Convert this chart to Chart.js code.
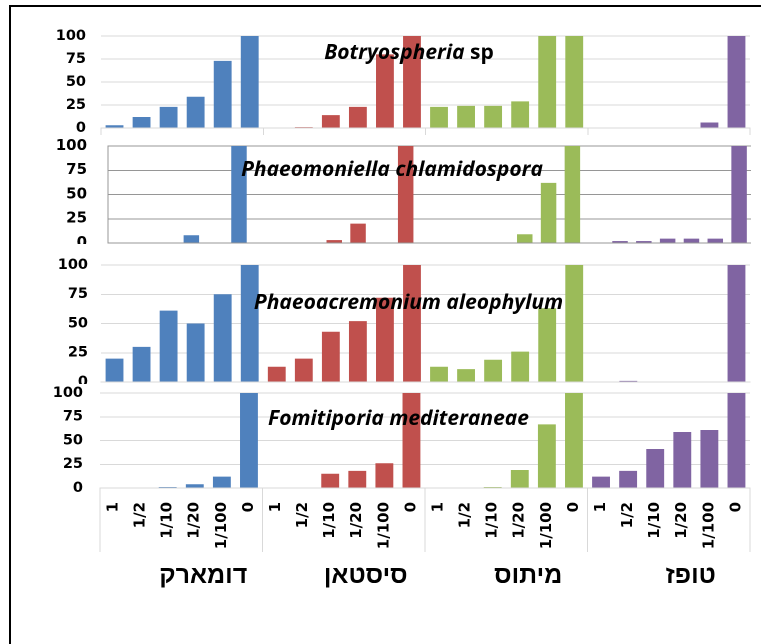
<!DOCTYPE html>
<html><head><meta charset="utf-8">
<script src="https://cdn.jsdelivr.net/npm/chart.js@4"></script>
<style>
html,body{margin:0;padding:0;background:#fff;width:761px;height:644px;overflow:hidden;position:relative;}
canvas{position:absolute;left:0;}
#frame{position:absolute;left:9px;top:5px;width:800px;height:700px;border-top:2px solid #000;border-left:2px solid #000;z-index:10;pointer-events:none;}
</style></head><body>
<canvas id="c1" width="761" height="132" style="top:8px"></canvas>
<canvas id="c2" width="761" height="121" style="top:134px"></canvas>
<canvas id="c3" width="761" height="140" style="top:244px;background:#fff"></canvas>
<canvas id="c4" width="761" height="250" style="top:384px"></canvas>
<div id="frame"></div>
<script>
// ---- data ----
const doses = ['1', '1/2', '1/10', '1/20', '1/100', '0'];
const cultivars = ['דומארק', 'סיסטאן', 'מיתוס', 'טופז'];
const yTicks = [0, 25, 50, 75, 100];

// values per cultivar (דומארק, סיסטאן, מיתוס, טופז), doses in order above
const botryosphaeria = [
  [3, 12, 23, 34, 73, 100],
  [0, 1, 14, 23, 80, 100],
  [23, 24, 24, 29, 100, 100],
  [0, 0, 0, 0, 6, 100]
];
const phaeomoniella = [
  [0.5, 0.5, 0.5, 8, 0, 100],
  [0, 0.5, 3, 20, 0, 100],
  [0.5, 0.5, 0.5, 9, 62, 100],
  [2, 2, 4.5, 4.5, 4.5, 100]
];
const phaeoacremonium = [
  [20, 30, 61, 50, 75, 100],
  [13, 20, 43, 52, 72, 100],
  [13, 11, 19, 26, 63, 100],
  [0, 1, 0, 0, 0, 100]
];
const fomitiporia = [
  [0, 0, 1, 4, 12, 100],
  [0, 0, 15, 18, 26, 100],
  [0, 0, 1, 19, 67, 100],
  [12, 18, 41, 59, 61, 100]
];

// ---- styles ----
const colors = ['#4F81BD', '#C0504D', '#9BBB59', '#8064A2'];
const FONT = '"DejaVu Sans", sans-serif';
const HEB_FONT = '"Liberation Sans", Arial, sans-serif';
const TITLE_FONT = '"Open Sans", Lato, sans-serif';

function buildLabels(gap) {
  const labels = [];
  cultivars.forEach((c, g) => {
    doses.forEach(d => labels.push(d));
    if (gap && g < cultivars.length - 1) labels.push('');
  });
  return labels;
}
function buildDatasets(values, gap, barPct) {
  const per = doses.length + (gap ? 1 : 0);
  const n = cultivars.length * doses.length + (gap ? cultivars.length - 1 : 0);
  return cultivars.map((c, g) => {
    const data = new Array(n).fill(null);
    values[g].forEach((v, i) => { data[g * per + i] = v; });
    return {
      label: c, data, backgroundColor: colors[g], borderWidth: 0,
      grouped: false, barPercentage: barPct, categoryPercentage: 1
    };
  });
}
function titlePlugin(parts, cx, baseline, size) {
  return {
    id: 'panelTitle',
    afterDraw(chart) {
      const ctx = chart.ctx;
      ctx.save();
      ctx.fillStyle = '#000';
      ctx.textBaseline = 'alphabetic';
      ctx.textAlign = 'left';
      const fonts = parts.map(p => (p.italic ? 'italic ' : '') + 'bold ' + size + 'px ' + TITLE_FONT);
      let total = 0;
      const widths = parts.map((p, i) => { ctx.font = fonts[i]; const w = ctx.measureText(p.text).width; total += w; return w; });
      let x = cx - total / 2;
      parts.forEach((p, i) => { ctx.font = fonts[i]; ctx.fillText(p.text, x, baseline); x += widths[i]; });
      ctx.restore();
    }
  };
}
const groupLabelPlugin = {
  id: 'groupLabels',
  afterDraw(chart) {
    const xs = chart.scales.x, ctx = chart.ctx;
    ctx.save();
    ctx.fillStyle = '#000';
    ctx.font = 'bold 25px ' + HEB_FONT;
    ctx.textAlign = 'center';
    ctx.textBaseline = 'alphabetic';
    cultivars.forEach((c, g) => {
      const a = xs.getPixelForValue(g * doses.length);
      const b = xs.getPixelForValue(g * doses.length + doses.length - 1);
      ctx.fillText(c, (a + b) / 2 + 22, chart.chartArea.bottom + 95);
    });
    ctx.restore();
  }
};
const boundaryColor = (col, every) => (ctx) => (ctx.index === undefined || ctx.index % every === 0) ? col : 'rgba(0,0,0,0)';

function makeChart(id, values, cfg) {
  const labels = buildLabels(cfg.gap);
  new Chart(document.getElementById(id), {
    type: 'bar',
    data: { labels, datasets: buildDatasets(values, cfg.gap, cfg.barPct) },
    options: {
      responsive: false, animation: false, devicePixelRatio: 2,
      layout: { padding: { top: cfg.padTop, bottom: cfg.padBottom, right: cfg.padRight, left: 0 } },
      plugins: { legend: { display: false }, tooltip: { enabled: false }, title: { display: false } },
      scales: {
        x: cfg.x,
        y: {
          min: 0, max: 100,
          afterBuildTicks: s => { s.ticks = yTicks.map(v => ({ value: v })); },
          afterFit: s => { s.width = cfg.yWidth; s.paddingTop = 0; s.paddingBottom = 0; },
          ticks: { color: '#000', autoSkip: false, font: { family: FONT, weight: 'bold', size: cfg.yFont }, padding: cfg.yPad },
          grid: { color: cfg.gridColor, drawTicks: false, lineWidth: 1 },
          border: cfg.yBorder
        }
      }
    },
    plugins: cfg.plugins
  });
}

// Panel 1
makeChart('c1', botryosphaeria, {
  gap: false, barPct: 0.66, padTop: 28, padBottom: 0, padRight: 11, yWidth: 101, yFont: 14.5, yPad: 15,
  gridColor: '#d9d9d9', yBorder: { display: false },
  x: {
    display: true, offset: true,
    afterFit: s => { s.height = 12; },
    ticks: { display: false },
    grid: { drawOnChartArea: false, drawTicks: true, tickLength: 7, color: boundaryColor('#d9d9d9', 6) },
    border: { display: true, color: '#d9d9d9' }
  },
  plugins: [titlePlugin([{ text: 'Botryospheria ', italic: true }, { text: 'sp', italic: false }], 409, 59 - 8, 21)]
});

// Panel 2
makeChart('c2', phaeomoniella, {
  gap: true, barPct: 0.65, padTop: 12, padBottom: 12, padRight: 10, yWidth: 108, yFont: 15, yPad: 21,
  gridColor: '#969696', yBorder: { display: true, color: '#969696', width: 1 },
  x: { display: false, offset: true },
  plugins: [titlePlugin([{ text: 'Phaeomoniella chlamidospora', italic: true }], 392, 176 - 134, 21)]
});

// Panel 3
makeChart('c3', phaeoacremonium, {
  gap: false, barPct: 0.66, padTop: 21, padBottom: 0, padRight: 11, yWidth: 101, yFont: 14.5, yPad: 13,
  gridColor: '#d9d9d9', yBorder: { display: false },
  x: {
    display: true, offset: true,
    afterFit: s => { s.height = 2; },
    ticks: { display: false },
    grid: { drawOnChartArea: false, drawTicks: false },
    border: { display: true, color: '#d9d9d9' }
  },
  plugins: [titlePlugin([{ text: 'Phaeoacremonium aleophylum', italic: true }], 408.5, 309 - 244, 21)]
});

// Panel 4
makeChart('c4', fomitiporia, {
  gap: false, barPct: 0.66, padTop: 9, padBottom: 76, padRight: 11, yWidth: 100, yFont: 14.5, yPad: 17,
  gridColor: '#d9d9d9', yBorder: { display: false },
  x: {
    display: true, offset: true,
    afterFit: s => { s.height = 70; },
    ticks: { color: '#000', autoSkip: false, minRotation: 90, maxRotation: 90, padding: -50,
             font: { family: FONT, weight: 'bold', size: 15 } },
    grid: { drawOnChartArea: false, drawTicks: true, tickLength: 64, color: boundaryColor('#d9d9d9', 6) },
    border: { display: true, color: '#d9d9d9' }
  },
  plugins: [titlePlugin([{ text: 'Fomitiporia mediteraneae', italic: true }], 398.5, 425 - 384, 21), groupLabelPlugin]
});
</script>
</body></html>
